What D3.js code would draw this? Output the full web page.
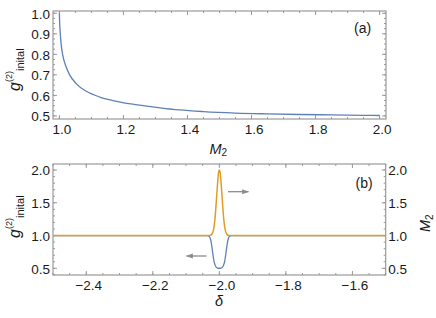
<!DOCTYPE html>
<html><head><meta charset="utf-8">
<script src="https://cdn.jsdelivr.net/npm/d3@7"></script>
<style>
body{margin:0;background:#fff;}
svg{display:block;font-family:"Liberation Sans",Arial,sans-serif;}
</style></head>
<body><svg id="c" width="436" height="318"></svg>
<script>
// ---- Panel (a) data ----
const m2Values = [1.0, 1.0005, 1.002, 1.005, 1.011, 1.02, 1.032, 1.053, 1.084, 1.126, 1.167, 1.229, 1.292, 1.375, 1.45, 1.55, 1.65, 1.75, 1.85, 1.95, 2.0];
const g2Values = [1.0, 0.965, 0.919, 0.856, 0.792, 0.743, 0.700, 0.656, 0.620, 0.592, 0.575, 0.557, 0.544, 0.529, 0.521, 0.514, 0.510, 0.507, 0.505, 0.503, 0.502];
const xTicksA = [1.0, 1.2, 1.4, 1.6, 1.8, 2.0];
const yTicksA = [0.5, 0.6, 0.7, 0.8, 0.9, 1.0];

// ---- Panel (b) data ----
const deltaValues = [-2.5, -2.04, -2.035, -2.0325, -2.03, -2.0275, -2.025, -2.0225, -2.02, -2.0175, -2.015, -2.0125, -2.01, -2.0075, -2.005, -2.0025, -2.0,
  -1.9975, -1.995, -1.9925, -1.99, -1.9875, -1.985, -1.9825, -1.98, -1.9775, -1.975, -1.9725, -1.97, -1.9675, -1.965, -1.96, -1.5];
const m2Series = [1.0, 1.0, 1.0, 1.0003, 1.001, 1.003, 1.008, 1.02, 1.045, 1.09, 1.17, 1.29, 1.46, 1.64, 1.82, 1.955, 2.0,
  1.955, 1.82, 1.64, 1.46, 1.29, 1.17, 1.09, 1.045, 1.02, 1.008, 1.003, 1.001, 1.0003, 1.0, 1.0, 1.0];
const g2Series = [1.0, 1.0, 0.998, 0.993, 0.985, 0.96, 0.91, 0.83, 0.74, 0.65, 0.585, 0.545, 0.52, 0.508, 0.503, 0.501, 0.501,
  0.501, 0.503, 0.508, 0.52, 0.545, 0.585, 0.65, 0.74, 0.83, 0.91, 0.96, 0.985, 0.993, 0.998, 1.0, 1.0];
const xTicksB = [-2.4, -2.2, -2.0, -1.8, -1.6];
const yTicksB = [0.5, 1.0, 1.5, 2.0];

const BLUE = "#5E81B5", ORANGE = "#E19C24", FRAME = "#9a9a9a", TXT = "#1a1a1a";
const FS = 13.5;
const svg = d3.select("#c");
const fmt = d3.format(".1f");
const line = (xs, ys, x, y) => d3.line().x((d,i)=>x(xs[i])).y((d,i)=>y(ys[i])).curve(d3.curveMonotoneX)(xs);

function range(a, b, s){ const r=[]; for(let v=a; v<=b+1e-9; v+=s) r.push(+v.toFixed(4)); return r; }

function frame(x, y, xMaj, xMin, yMaj, yMin, rightLabels){
  const [x0,x1]=x.range(), [y0,y1]=y.range();
  const g = svg.append("g");
  const tick=(v,len,axis)=>{
    if(axis==="x"){
      g.append("line").attr("x1",x(v)).attr("x2",x(v)).attr("y1",y0).attr("y2",y0-len).attr("stroke",FRAME);
      g.append("line").attr("x1",x(v)).attr("x2",x(v)).attr("y1",y1).attr("y2",y1+len).attr("stroke",FRAME);
    } else {
      g.append("line").attr("y1",y(v)).attr("y2",y(v)).attr("x1",x0).attr("x2",x0+len).attr("stroke",FRAME);
      g.append("line").attr("y1",y(v)).attr("y2",y(v)).attr("x1",x1).attr("x2",x1-len).attr("stroke",FRAME);
    }
  };
  xMin.forEach(v=>tick(v,2,"x")); xMaj.forEach(v=>tick(v,4,"x"));
  yMin.forEach(v=>tick(v,2,"y")); yMaj.forEach(v=>tick(v,4,"y"));
  g.append("rect").attr("x",x0).attr("y",y1).attr("width",x1-x0).attr("height",y0-y1)
    .attr("fill","none").attr("stroke",FRAME).attr("stroke-width",1.2);
  const ax = svg.append("g").attr("transform",`translate(0,${y0})`)
    .call(d3.axisBottom(x).tickValues(xMaj).tickFormat(fmt).tickSize(0).tickPadding(0));
  ax.select(".domain").remove();
  ax.selectAll("text").attr("y",14.5).attr("dy",0).attr("dx",2).attr("font-size",FS).attr("fill",TXT).attr("font-family","Liberation Sans, Arial");
  const ay = svg.append("g").attr("transform",`translate(${x0},0)`)
    .call(d3.axisLeft(y).tickValues(yMaj).tickFormat(fmt).tickSize(0).tickPadding(0));
  ay.select(".domain").remove();
  ay.selectAll("text").attr("x",-3).attr("dy","0.36em").attr("font-size",FS).attr("fill",TXT).attr("font-family","Liberation Sans, Arial");
  if(rightLabels){
    const ar = svg.append("g").attr("transform",`translate(${x1},0)`)
      .call(d3.axisRight(y).tickValues(yMaj).tickFormat(fmt).tickSize(0).tickPadding(0));
    ar.select(".domain").remove();
    ar.selectAll("text").attr("x",2.5).attr("dy","0.36em").attr("font-size",FS).attr("fill",TXT).attr("font-family","Liberation Sans, Arial");
  }
}

function gLabel(xb, yStart){
  const g = svg.append("g").attr("transform",`translate(${xb},${yStart}) rotate(-90)`).attr("fill",TXT);
  g.append("text").attr("x",0).attr("y",0).attr("font-size",16).attr("font-style","italic").text("g");
  g.append("text").attr("x",9).attr("y",-7.5).attr("font-size",9).text("(2)");
  g.append("text").attr("x",20).attr("y",4.5).attr("font-size",11).text("inital");
}

// ---- Panel (a) ----
const xA = d3.scaleLinear().domain([0.98, 2.02]).range([53, 386]);
const yA = d3.scaleLinear().domain([0.485, 1.011]).range([119, 11]);
frame(xA, yA, xTicksA, range(1.0,2.0,0.05), yTicksA, range(0.5,1.0,0.025), false);
svg.append("path").attr("d", line(m2Values, g2Values, xA, yA)).attr("fill","none").attr("stroke",BLUE).attr("stroke-width",1.3);
gLabel(19.5, 91);
const xl = svg.append("text").attr("x",209.5).attr("y",153.5).attr("fill",TXT);
xl.append("tspan").attr("font-size",14.5).attr("font-style","italic").text("M");
xl.append("tspan").attr("font-size",10).attr("dy",2.5).text("2");
svg.append("text").attr("x",354).attr("y",33.3).attr("font-size",14).attr("fill",TXT).text("(a)");

// ---- Panel (b) ----
const xB = d3.scaleLinear().domain([-2.5, -1.5]).range([53, 385.7]);
const yB = d3.scaleLinear().domain([0.398, 2.092]).range([275, 164]);
frame(xB, yB, xTicksB, range(-2.5,-1.5,0.05), yTicksB, range(0.4,2.0,0.1), true);
svg.append("path").attr("d", line(deltaValues, g2Series, xB, yB)).attr("fill","none").attr("stroke",BLUE).attr("stroke-width",1.3);
svg.append("path").attr("d", line(deltaValues, m2Series, xB, yB)).attr("fill","none").attr("stroke",ORANGE).attr("stroke-width",1.5);
gLabel(19.5, 238);
svg.append("text").attr("x",215).attr("y",306).attr("font-size",14.5).attr("font-style","italic").attr("fill",TXT).text("δ");
const rl = svg.append("g").attr("transform","translate(430,232) rotate(-90)").attr("fill",TXT);
const rt = rl.append("text").attr("x",0).attr("y",0);
rt.append("tspan").attr("font-size",14.5).attr("font-style","italic").text("M");
rt.append("tspan").attr("font-size",10).attr("dy",2.5).text("2");
svg.append("text").attr("x",355.5).attr("y",188).attr("font-size",14).attr("fill",TXT).text("(b)");

// arrows
const defs = svg.append("defs");
defs.append("marker").attr("id","ah").attr("viewBox","0 0 10 10").attr("refX",9).attr("refY",5)
  .attr("markerWidth",7).attr("markerHeight",7).attr("markerUnits","userSpaceOnUse").attr("orient","auto")
  .append("path").attr("d","M0,1.5 L10,5 L0,8.5 Z").attr("fill","#8c8c8c");
svg.append("line").attr("x1",206.5).attr("y1",256).attr("x2",186.5).attr("y2",256)
  .attr("stroke","#8c8c8c").attr("stroke-width",1.3).attr("marker-end","url(#ah)");
svg.append("line").attr("x1",228).attr("y1",191.7).attr("x2",248.5).attr("y2",191.7)
  .attr("stroke","#8c8c8c").attr("stroke-width",1.3).attr("marker-end","url(#ah)");
</script></body></html>
